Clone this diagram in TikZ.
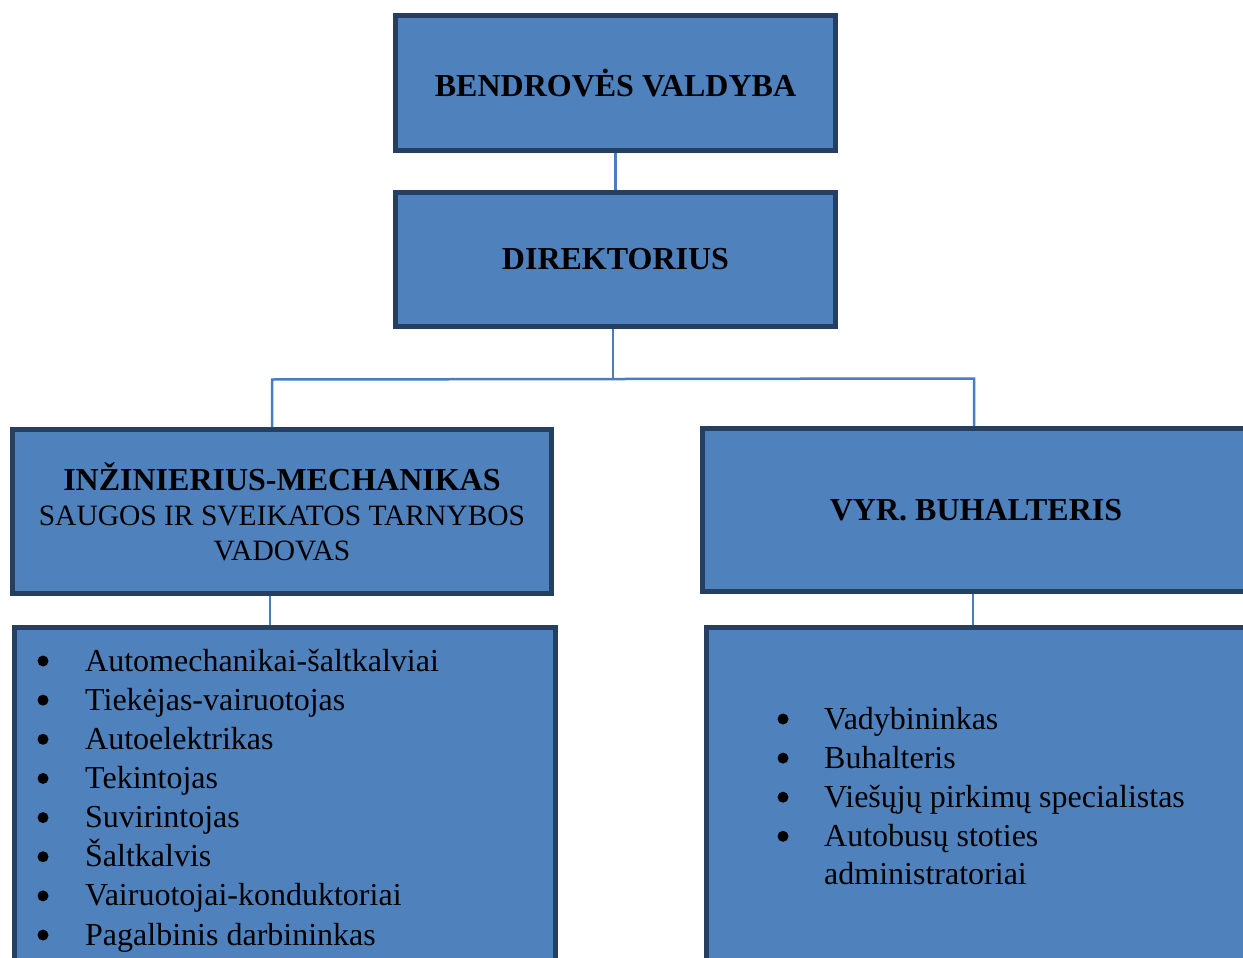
\documentclass[tikz,border=0pt]{standalone}
\usepackage{fontspec}
\setmainfont{Liberation Serif}
\definecolor{boxfill}{HTML}{4F81BD}
\definecolor{boxborder}{HTML}{243F60}
\definecolor{connline}{HTML}{4A7EBB}
\tikzset{
  orgbox/.style={draw=boxborder, line width=5pt, fill=boxfill, inner sep=0pt, align=center,
    font=\fontsize{32}{35}\selectfont\bfseries},
  conn/.style={draw=connline, line width=2.5pt},
  itemtext/.style={anchor=base west, inner sep=0pt, font=\fontsize{32}{35}\selectfont},
  bulletdot/.style={fill=black}
}
\begin{document}
\begin{tikzpicture}[x=1pt,y=-1pt]
\useasboundingbox (0,0) rectangle (1243,958);
\clip (0,0) rectangle (1243,958);
% boxes
\node[orgbox, minimum width=440pt, minimum height=135pt] (top) at (615.5,83) {BENDROVĖS VALDYBA};
\node[orgbox, minimum width=440pt, minimum height=134pt] (dir) at (615.5,259.5) {DIREKTORIUS};
\node[orgbox, minimum width=539pt, minimum height=164pt] (eng) at (282,511.5)
  {INŽINIERIUS-MECHANIKAS\\ \fontsize{29.5}{35}\selectfont\mdseries SAUGOS IR SVEIKATOS TARNYBOS\\ \fontsize{29.5}{35}\selectfont\mdseries VADOVAS};
\node[orgbox, minimum width=547pt, minimum height=163pt] (buh) at (976,510) {VYR. BUHALTERIS};
\node[orgbox, anchor=north west, minimum width=541pt, minimum height=400pt] (ll) at (12,625) {};
\node[orgbox, anchor=north west, minimum width=600pt, minimum height=400pt] (rl) at (704,625) {};
% connectors
\coordinate (hub) at (613,379);
\coordinate (jl) at (272,379.5);
\coordinate (jr) at (974,378.5);
\coordinate (cl) at (270,610);
\coordinate (cr) at (973,610);
\draw[conn] (top.south) -- (dir.north);
\draw[conn] (hub |- dir.south) -- (hub);
\draw[conn] (jl |- eng.north) -- (jl) -- (jr) -- (jr |- buh.north);
\draw[conn] (cl |- eng.south) -- (cl |- ll.north);
\draw[conn] (cr |- buh.south) -- (cr |- rl.north);
% left list
\foreach \t [count=\i] in {Automechanikai-šaltkalviai, Tiekėjas-vairuotojas, Autoelektrikas, Tekintojas, Suvirintojas, Šaltkalvis, Vairuotojai-konduktoriai, Pagalbinis darbininkas}{
  \node[itemtext] (li\i) at (85,{671+39.15*(\i-1)}) {\t};
  \fill[bulletdot] (43,{661+39.15*(\i-1)}) circle (5.5);
}
% right list
\foreach \t [count=\i] in {Vadybininkas, Buhalteris, Viešųjų pirkimų specialistas, Autobusų stoties}{
  \node[itemtext] (ri\i) at (824,{729+39.1*(\i-1)}) {\t};
  \fill[bulletdot] (783,{719+39.1*(\i-1)}) circle (5.5);
}
\node[itemtext] (ri5) at (824,884) {administratoriai};
\end{tikzpicture}
\end{document}
